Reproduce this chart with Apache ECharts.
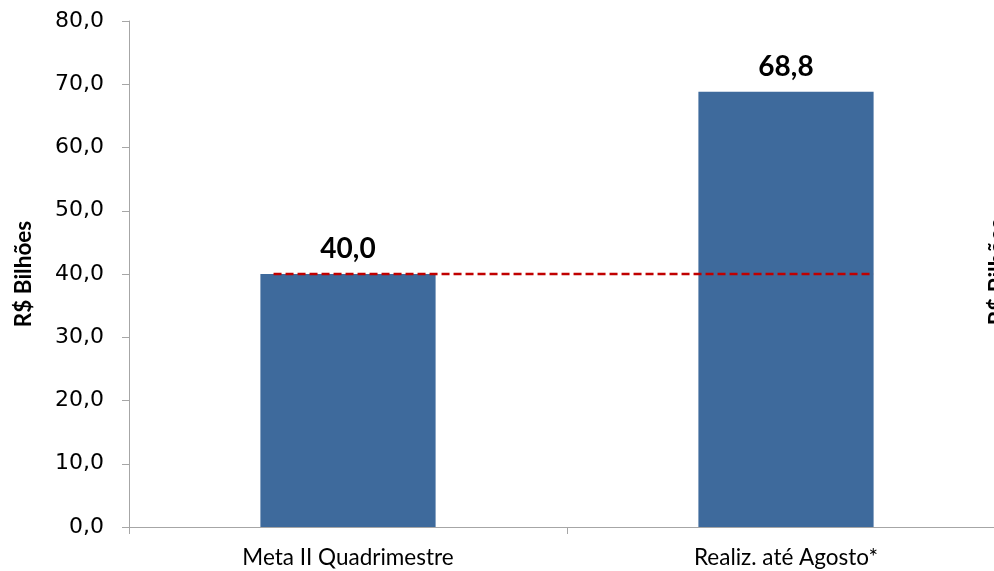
<!DOCTYPE html>
<html>
<head>
<meta charset="utf-8">
<script src="https://cdn.jsdelivr.net/npm/echarts@6/dist/echarts.min.js"></script>
<style>html,body{margin:0;padding:0;background:#fff;overflow:hidden;width:994px;height:571px;}#c{width:1010px;height:571px;}</style>
</head>
<body>
<div id="c"></div>
<script>
const categories = ['Meta II Quadrimestre', 'Realiz. até Agosto*'];
const values = [40.0, 68.8];
const targetLineX = [0.33, 1.70];
const targetValue = 40.0;
const yTicks = [0, 10, 20, 30, 40, 50, 60, 70, 80];
const axisName = 'R$ Bilhões';

const fmt = v => v.toFixed(1).replace('.', ',');
const chart = echarts.init(document.getElementById('c'));
chart.setOption({
  animation: false,
  grid: { left: 129, top: 21, width: 876, height: 506 },
  xAxis: [
    {
      type: 'category', data: categories, boundaryGap: true,
      axisLine: { lineStyle: { color: '#a6a6a6', width: 1 } },
      axisTick: { show: true, alignWithLabel: false, interval: 0, length: 7, lineStyle: { color: '#a6a6a6' } },
      axisLabel: { color: '#000', fontFamily: 'Lato', fontSize: 22.5, margin: 19 }
    },
    { type: 'value', min: 0, max: 2, show: false }
  ],
  yAxis: {
    type: 'value', min: yTicks[0], max: yTicks[yTicks.length - 1], interval: 10,
    name: axisName, nameLocation: 'middle', nameGap: 94, nameRotate: 90,
    nameTextStyle: { color: '#000', fontFamily: 'Lato', fontWeight: 'bold', fontSize: 22.5 },
    axisLine: { show: true, lineStyle: { color: '#a6a6a6', width: 1 } },
    axisTick: { show: true, length: 7, lineStyle: { color: '#a6a6a6' } },
    splitLine: { show: false },
    axisLabel: { color: '#000', fontFamily: 'DejaVu Sans', fontSize: 22, margin: 25, formatter: v => fmt(v) }
  },
  graphic: [{
    type: 'text', rotation: Math.PI / 2,
    style: { text: axisName, fill: '#000', font: 'bold 22.5px Lato', textAlign: 'center', textVerticalAlign: 'middle' },
    x: 998, y: 272
  }],
  series: [
    {
      type: 'bar', data: values, barWidth: '40%',
      itemStyle: { color: '#3E6A9C' },
      label: { show: true, position: 'top', distance: 11, color: '#000', fontFamily: 'Lato', fontWeight: 'bold', fontSize: 28, formatter: p => fmt(p.value) }
    },
    {
      type: 'line', xAxisIndex: 1, data: targetLineX.map(x => [x, targetValue]),
      symbol: 'none', lineStyle: { color: '#C00000', width: 2.5, type: [8, 4] }, z: 5
    }
  ]
});
</script>
</body>
</html>
